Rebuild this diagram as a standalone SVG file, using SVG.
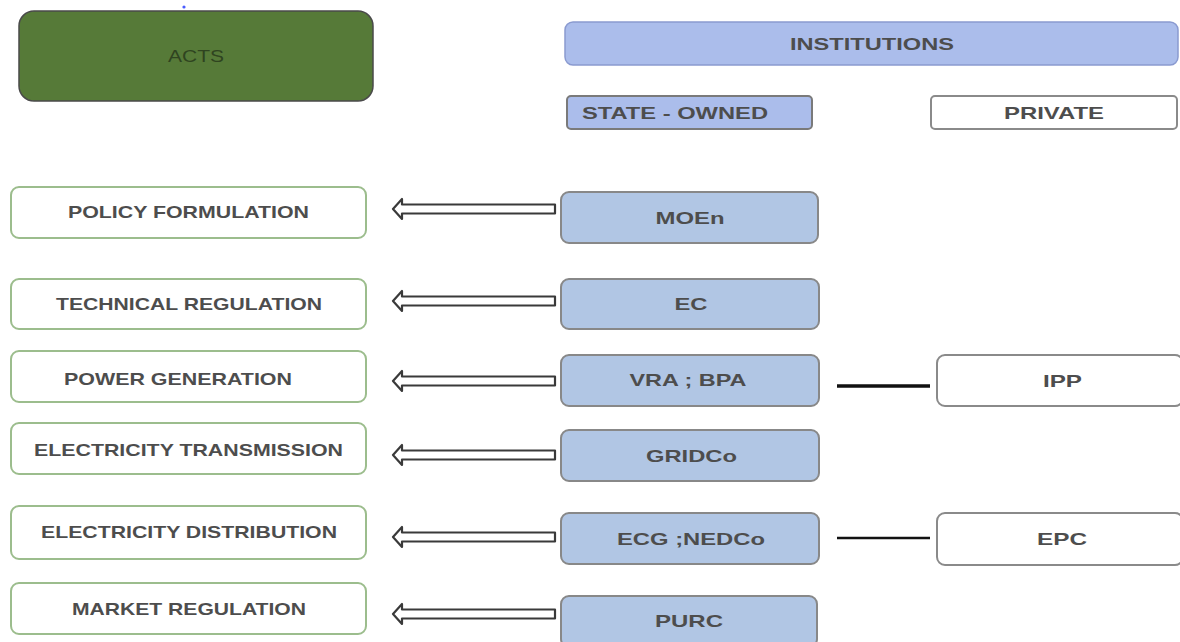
<svg xmlns="http://www.w3.org/2000/svg" width="1180" height="642" viewBox="0 0 1180 642">
<style>
text{font-family:"Liberation Sans",Arial,sans-serif;font-size:17px;font-weight:bold;fill:#4d4d4d;text-anchor:middle}
.act{fill:#ffffff;stroke:#9cbd8d;stroke-width:2}
.st{fill:#b1c6e4;stroke:#888888;stroke-width:2}
.pv{fill:#ffffff;stroke:#8a8a8a;stroke-width:2}
.arr{fill:#ffffff;stroke:#3a3a3a;stroke-width:2.2;stroke-linejoin:round}
.ln{stroke:#111111;fill:none}
</style>
<rect width="1180" height="642" fill="#ffffff"/>
<circle cx="184" cy="7" r="1.6" fill="#4a5cff"/>
<g id="acts"><rect x="19" y="11" width="354" height="90" rx="15" fill="#567a38" stroke="#4a4a4a" stroke-width="1.5"/><text x="196" y="62" textLength="56" lengthAdjust="spacingAndGlyphs" style="fill:#2f4420;font-weight:normal">ACTS</text></g>
<g id="institutions"><rect x="565" y="22" width="613" height="43" rx="8" fill="#abbdeb" stroke="#8a9ad0" stroke-width="1.5"/><text x="872" y="50" textLength="164" lengthAdjust="spacingAndGlyphs">INSTITUTIONS</text></g>
<g id="state-owned"><rect x="567" y="96" width="245" height="33" rx="4" fill="#abbdeb" stroke="#7a7a7a" stroke-width="2"/><text x="675" y="119" textLength="186" lengthAdjust="spacingAndGlyphs">STATE - OWNED</text></g>
<g id="private"><rect x="931" y="96" width="246" height="33" rx="4" class="pv"/><text x="1054" y="119" textLength="100" lengthAdjust="spacingAndGlyphs">PRIVATE</text></g>

<g id="policy"><rect x="11" y="187" width="355" height="51" rx="8" class="act"/><text x="188.5" y="218" textLength="241" lengthAdjust="spacingAndGlyphs">POLICY FORMULATION</text></g>
<g id="technical"><rect x="11" y="279" width="355" height="50" rx="8" class="act"/><text x="189" y="310" textLength="266" lengthAdjust="spacingAndGlyphs">TECHNICAL REGULATION</text></g>
<g id="generation"><rect x="11" y="351" width="355" height="51" rx="8" class="act"/><text x="178" y="385" textLength="228" lengthAdjust="spacingAndGlyphs">POWER GENERATION</text></g>
<g id="transmission"><rect x="11" y="423" width="355" height="51" rx="8" class="act"/><text x="188.5" y="456" textLength="309" lengthAdjust="spacingAndGlyphs">ELECTRICITY TRANSMISSION</text></g>
<g id="distribution"><rect x="11" y="506" width="355" height="53" rx="8" class="act"/><text x="189" y="538" textLength="296" lengthAdjust="spacingAndGlyphs">ELECTRICITY DISTRIBUTION</text></g>
<g id="market"><rect x="11" y="583" width="355" height="51" rx="8" class="act"/><text x="189" y="615" textLength="234" lengthAdjust="spacingAndGlyphs">MARKET REGULATION</text></g>

<g id="moen"><rect x="561" y="192" width="257" height="51" rx="8" class="st"/><text x="690" y="224" textLength="69" lengthAdjust="spacingAndGlyphs">MOEn</text></g>
<g id="ec"><rect x="561" y="279" width="258" height="50" rx="8" class="st"/><text x="691" y="310" textLength="33" lengthAdjust="spacingAndGlyphs">EC</text></g>
<g id="vra"><rect x="561" y="355" width="258" height="51" rx="8" class="st"/><text x="688" y="386" textLength="117" lengthAdjust="spacingAndGlyphs">VRA ; BPA</text></g>
<g id="gridco"><rect x="561" y="430" width="258" height="51" rx="8" class="st"/><text x="691.5" y="462" textLength="91" lengthAdjust="spacingAndGlyphs">GRIDCo</text></g>
<g id="ecg"><rect x="561" y="513" width="258" height="51" rx="8" class="st"/><text x="691" y="545" textLength="148" lengthAdjust="spacingAndGlyphs">ECG ;NEDCo</text></g>
<g id="purc"><rect x="561" y="596" width="256" height="51" rx="8" class="st"/><text x="689" y="627" textLength="68" lengthAdjust="spacingAndGlyphs">PURC</text></g>

<g id="ipp"><rect x="937" y="355" width="246" height="51" rx="8" class="pv"/><text x="1062.5" y="387" textLength="39" lengthAdjust="spacingAndGlyphs">IPP</text></g>
<g id="epc"><rect x="937" y="513" width="246" height="52" rx="8" class="pv"/><text x="1062" y="545" textLength="50" lengthAdjust="spacingAndGlyphs">EPC</text></g>

<g id="connectors">
<path class="arr" d="M393,209 L402,199 L402,204.5 L555,204.5 L555,213.5 L402,213.5 L402,219 Z"/>
<path class="arr" d="M393,301 L402,291 L402,296.5 L555,296.5 L555,305.5 L402,305.5 L402,311 Z"/>
<path class="arr" d="M393,381 L402,371 L402,376.5 L555,376.5 L555,385.5 L402,385.5 L402,391 Z"/>
<path class="arr" d="M393,455 L402,445 L402,450.5 L555,450.5 L555,459.5 L402,459.5 L402,465 Z"/>
<path class="arr" d="M393,537 L402,527 L402,532.5 L555,532.5 L555,541.5 L402,541.5 L402,547 Z"/>
<path class="arr" d="M393,614 L402,604 L402,609.5 L555,609.5 L555,618.5 L402,618.5 L402,624 Z"/>
<line class="ln" x1="837" y1="386" x2="930" y2="386" stroke-width="3.5"/>
<line class="ln" x1="837" y1="538" x2="930" y2="538" stroke-width="2.5"/>
</g>
</svg>
